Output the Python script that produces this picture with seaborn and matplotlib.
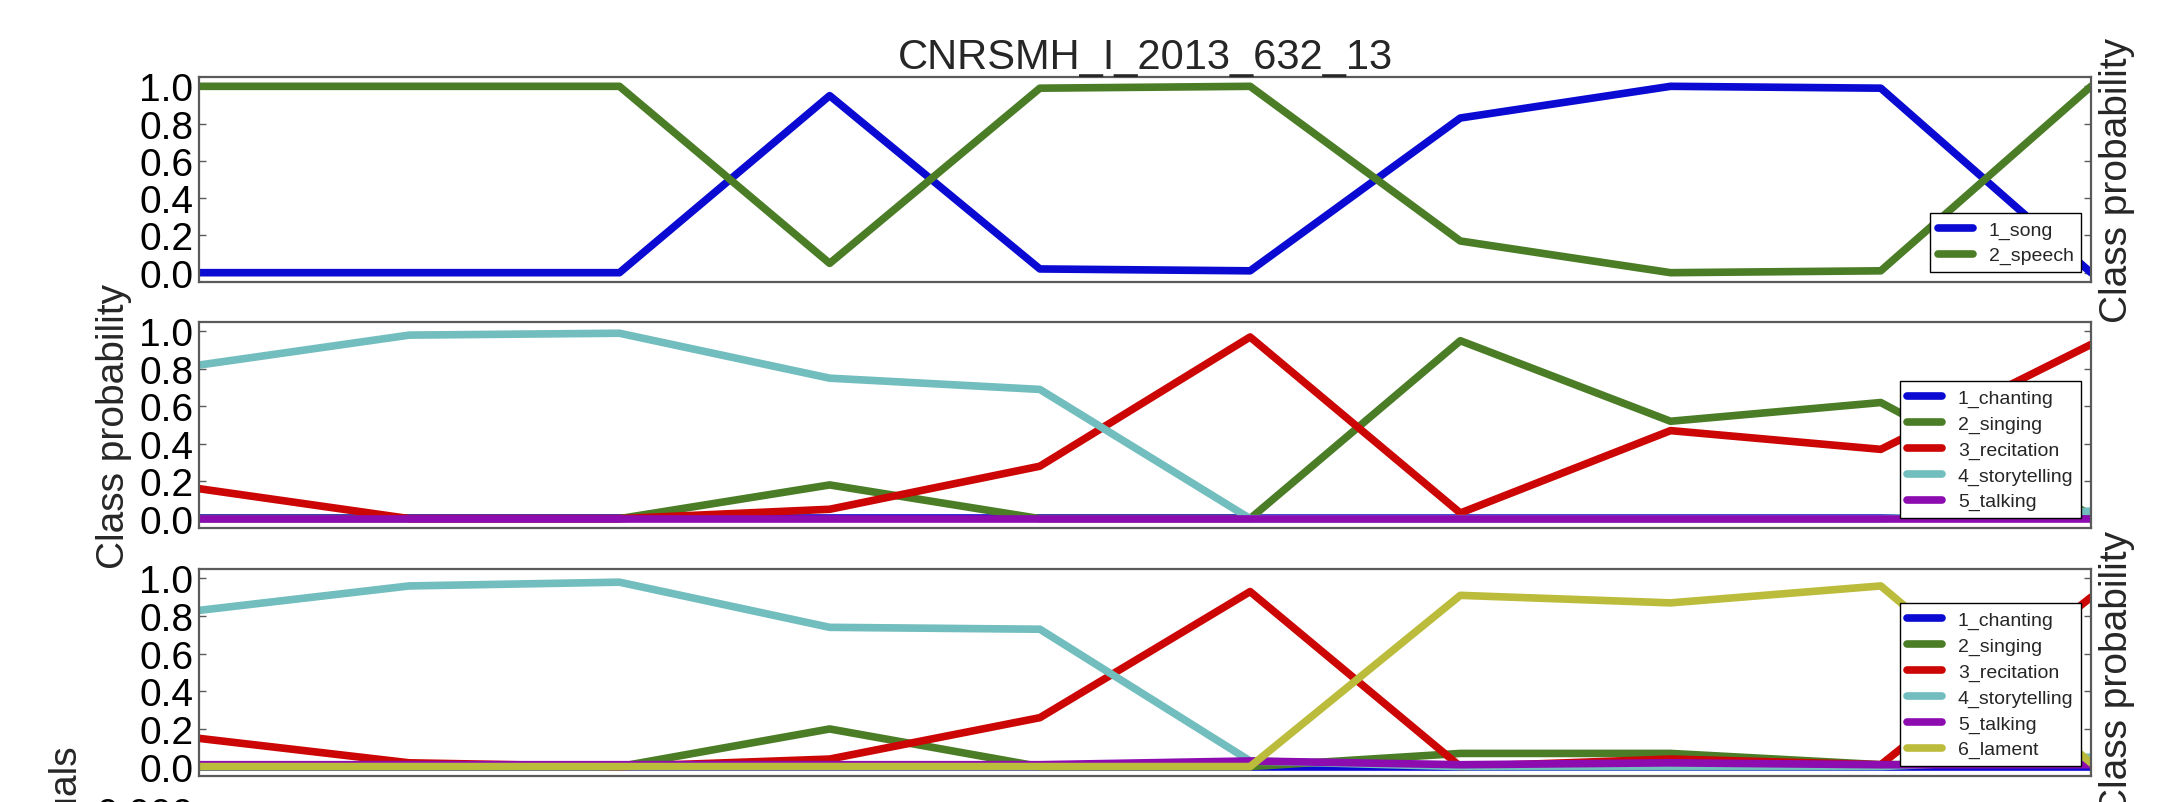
import numpy as np
import pandas as pd
import seaborn as sns
import matplotlib.pyplot as plt
from matplotlib.ticker import FormatStrFormatter

# segment index along the recording
segments = [0, 1, 2, 3, 4, 5, 6, 7, 8, 9]
title = 'CNRSMH_I_2013_632_13'

# panel 1: song / speech
song = [0.0, 0.0, 0.0, 0.95, 0.02, 0.01, 0.83, 1.0, 0.99, 0.0]
speech = [1.0, 1.0, 1.0, 0.05, 0.99, 1.0, 0.17, 0.0, 0.01, 1.0]

# panel 2: five classes
p2_chanting = [0.005, 0.005, 0.005, 0.005, 0.005, 0.005, 0.005, 0.005, 0.005, 0.005]
p2_singing = [0.0, 0.0, 0.0, 0.18, 0.0, 0.0, 0.95, 0.52, 0.62, 0.02]
p2_recitation = [0.16, 0.0, 0.0, 0.05, 0.28, 0.97, 0.03, 0.47, 0.37, 0.93]
p2_storytelling = [0.82, 0.98, 0.99, 0.75, 0.69, 0.0, 0.0, 0.0, 0.0, 0.04]
p2_talking = [0.0, 0.0, 0.0, 0.0, 0.0, 0.0, 0.0, 0.0, 0.0, 0.0]

# panel 3: six classes
p3_chanting = [0.0, 0.0, 0.0, 0.0, 0.0, 0.0, 0.0, 0.0, 0.0, 0.0]
p3_singing = [0.0, 0.0, 0.0, 0.2, 0.0, 0.0, 0.07, 0.07, 0.01, 0.02]
p3_recitation = [0.15, 0.02, 0.0, 0.04, 0.26, 0.93, 0.0, 0.04, 0.01, 0.90]
p3_storytelling = [0.83, 0.96, 0.98, 0.74, 0.73, 0.03, 0.0, 0.0, 0.0, 0.05]
p3_talking = [0.01, 0.01, 0.01, 0.01, 0.01, 0.03, 0.01, 0.02, 0.01, 0.01]
p3_lament = [0.0, 0.0, 0.0, 0.0, 0.0, 0.0, 0.91, 0.87, 0.96, 0.02]

prob_ticks = [0.0, 0.2, 0.4, 0.6, 0.8, 1.0]
resid_ticks = [0.0, -0.002, -0.004, -0.006]

colors = {
    '1_song': '#0a0ad2', '2_speech': '#4b7d27',
    '1_chanting': '#0a0ad2', '2_singing': '#4b7d27', '3_recitation': '#cc0505',
    '4_storytelling': '#72bdbd', '5_talking': '#8c0cb0', '6_lament': '#bcbc3c',
}


def long_form(series):
    rows = []
    for name, vals in series:
        for s, v in zip(segments, vals):
            rows.append({'segment': s, 'prob': v, 'cls': name})
    return pd.DataFrame(rows)


def style_axis(ax):
    ax.set_xlim(0, 9)
    ax.set_xticks([])
    ax.set_xlabel('')
    for sp in ax.spines.values():
        sp.set_color('#5a5a5a')
        sp.set_linewidth(1.6)
    ax.tick_params(axis='y', direction='in', left=True, right=True, length=5,
                   width=1, color='#5a5a5a', labelcolor='black', labelsize=28, pad=4)


def draw_panel(ax, series):
    df = long_form(series)
    names = [n for n, _ in series]
    sns.lineplot(data=df, x='segment', y='prob', hue='cls', hue_order=names,
                 palette=colors, linewidth=5.5, ax=ax, legend=True)
    ax.set_ylim(-0.05, 1.05)
    ax.set_yticks(prob_ticks)
    ax.yaxis.set_major_formatter(FormatStrFormatter('%.1f'))
    ax.set_ylabel('')
    style_axis(ax)
    handles, labels = ax.get_legend_handles_labels()
    ax.legend(handles, labels, loc='lower right', fontsize=14, fancybox=False,
              edgecolor='black', framealpha=1, labelspacing=0.42, handlelength=1.8,
              borderpad=0.4, handletextpad=0.8, borderaxespad=0.5)


sns.set_style('white')
plt.rcParams['font.family'] = ['Liberation Sans', 'DejaVu Sans']

fig = plt.figure(figsize=(21.57, 8.03), dpi=100)
W, H = 2157.0, 803.0
left, width = 199 / W, (2091 - 199) / W

ax1 = fig.add_axes([left, (H - 283) / H, width, 205 / H])
ax2 = fig.add_axes([left, (H - 529) / H, width, 206 / H])
ax3 = fig.add_axes([left, (H - 777) / H, width, 207 / H])
ax4 = fig.add_axes([left, (H - 1019) / H, width, 207 / H])

draw_panel(ax1, [('1_song', song), ('2_speech', speech)])
draw_panel(ax2, [('1_chanting', p2_chanting), ('2_singing', p2_singing),
                 ('3_recitation', p2_recitation), ('4_storytelling', p2_storytelling),
                 ('5_talking', p2_talking)])
draw_panel(ax3, [('1_chanting', p3_chanting), ('2_singing', p3_singing),
                 ('3_recitation', p3_recitation), ('4_storytelling', p3_storytelling),
                 ('5_talking', p3_talking), ('6_lament', p3_lament)])

ax1.set_title(title, fontsize=30, pad=6)

ax1.yaxis.set_label_position('right')
ax1.set_ylabel('Class probability', fontsize=28, labelpad=6)
ax2.set_ylabel('Class probability', fontsize=28, labelpad=5)
ax3.yaxis.set_label_position('right')
ax3.set_ylabel('Class probability', fontsize=28, labelpad=6)

# residual panel, mostly below the visible area (cropped like the source)
ax4.set_ylim(resid_ticks[-1], resid_ticks[0])
ax4.set_yticks(resid_ticks)
ax4.yaxis.set_major_formatter(FormatStrFormatter('%.3f'))
style_axis(ax4)
ax4.set_ylabel('Residuals', fontsize=28)
ax4.yaxis.set_label_coords(82 / W, (H - 828) / H, transform=fig.transFigure)

fig.savefig('out.png', dpi=100)
